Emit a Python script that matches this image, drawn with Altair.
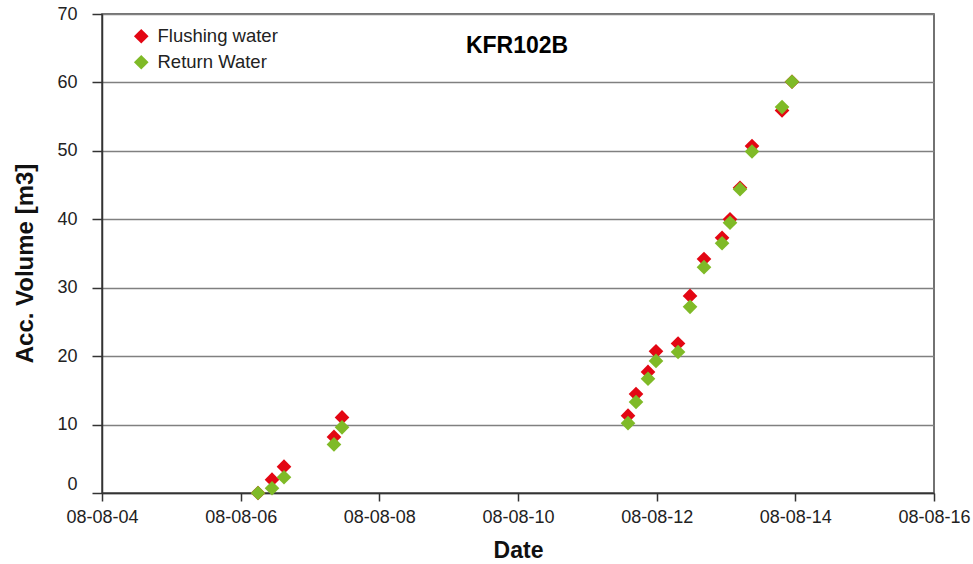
import altair as alt
import pandas as pd

FONT = "Liberation Sans"

series_names = ["Flushing water", "Return Water"]
series_colors = ["#e30613", "#7fba27"]
chart_title = "KFR102B"

flush_times = [
    "2008-08-06T06:00", "2008-08-06T10:51", "2008-08-06T15:00",
    "2008-08-07T08:18", "2008-08-07T11:05",
    "2008-08-11T14:05", "2008-08-11T16:51", "2008-08-11T21:00",
    "2008-08-11T23:46", "2008-08-12T07:24", "2008-08-12T11:33",
    "2008-08-12T16:23", "2008-08-12T22:38", "2008-08-13T01:23",
    "2008-08-13T04:51", "2008-08-13T09:00", "2008-08-13T19:24",
    "2008-08-13T22:51",
]
flush_vol = [0.0, 1.95, 3.85, 8.2, 11.05, 11.3, 14.45, 17.7, 20.7, 21.85,
             28.8, 34.2, 37.3, 40.0, 44.6, 50.7, 55.9, 60.1]

return_times = list(flush_times)
return_vol = [0.0, 0.7, 2.3, 7.1, 9.6, 10.2, 13.3, 16.7, 19.3, 20.6,
              27.2, 33.0, 36.5, 39.5, 44.4, 49.9, 56.4, 60.1]

x_tick_days = [4, 6, 8, 10, 12, 14, 16]
y_ticks = [0, 10, 20, 30, 40, 50, 60, 70]

df = pd.DataFrame({
    "time": flush_times + return_times,
    "volume": flush_vol + return_vol,
    "series": [series_names[0]] * len(flush_times) + [series_names[1]] * len(return_times),
})

def d(day):
    return alt.DateTime(year=2008, month=8, date=day)

points = alt.Chart(df).mark_point(
    shape="diamond", filled=True, size=215, opacity=1, strokeWidth=0
).encode(
    x=alt.X(
        "time:T",
        scale=alt.Scale(domain=[d(4), d(16)], nice=False),
        axis=alt.Axis(
            title="Date", values=[d(v) for v in x_tick_days], format="%y-%m-%d",
            grid=False, tickSize=8, labelPadding=7, labelFontSize=18,
            titleFontSize=23, titleFontWeight="bold", titleY=64,
            titleBaseline="alphabetic", labelFlush=False, labelOverlap=False,
        ),
    ),
    y=alt.Y(
        "volume:Q",
        scale=alt.Scale(domain=[0, 70], nice=False),
        axis=alt.Axis(
            title="Acc. Volume [m3]", values=y_ticks, grid=True,
            gridColor="#808080", gridWidth=1.5, tickSize=10, labelPadding=15,
            labelFontSize=18, titleFontSize=24, titleFontWeight="bold",
            titleX=-70, titleY=249, titleAngle=-90, titleAlign="center",
            titleBaseline="alphabetic",
            labelOffset=alt.ConditionalAxisNumber(condition={"test": "datum.value == 0", "value": -9}, value=0),
        ),
    ),
    color=alt.Color(
        "series:N",
        scale=alt.Scale(domain=series_names, range=series_colors),
        legend=alt.Legend(
            title=None, orient="none", legendX=30, legendY=13, padding=0,
            symbolType="diamond", symbolSize=215, symbolStrokeWidth=0,
            labelFontSize=18.5, labelOffset=7, rowPadding=7, labelFont=FONT,
        ),
    ),
)

title_text = alt.Chart(pd.DataFrame({"label": [chart_title]})).mark_text(
    font=FONT, fontSize=23, fontWeight="bold", align="center",
    baseline="alphabetic", color="#000000"
).encode(text="label:N", x=alt.value(415), y=alt.value(39))

chart = alt.layer(points, title_text).properties(
    width=832, height=479,
    padding={"left": 102, "top": 14, "right": 39, "bottom": 71},
    autosize=alt.AutoSizeParams(type="none"),
).configure_view(
    stroke="#444444", strokeWidth=1.5
).configure_axis(
    labelFont=FONT, titleFont=FONT, labelColor="#222222", titleColor="#111111",
    domainColor="#333333", domainWidth=1.5, tickColor="#333333", tickWidth=1.5,
).configure_legend(labelColor="#222222")

chart.save("out.html", embed_options={"renderer": "svg", "actions": False})
